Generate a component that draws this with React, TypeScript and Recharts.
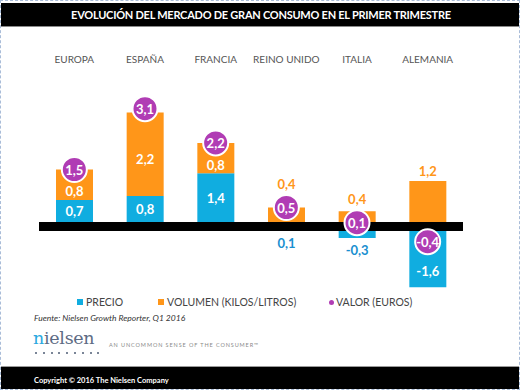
import { ComposedChart, Bar, Line, XAxis, YAxis, ReferenceLine, LabelList, Legend } from 'recharts';

const categories = ['EUROPA', 'ESPAÑA', 'FRANCIA', 'REINO UNIDO', 'ITALIA', 'ALEMANIA'];
const precio = [0.7, 0.8, 1.4, 0.1, -0.3, -1.6];
const volumen = [0.8, 2.2, 0.8, 0.4, 0.4, 1.2];
const valor = [1.5, 3.1, 2.2, 0.5, 0.1, -0.4];

const CYAN = '#10ade0';
const ORANGE = '#ff9619';
const PURPLE = '#b03cb4';
const FONT = 'Lato, "Open Sans", sans-serif';
const R = 13.5;
const HALF_LINE = 4.5;

const data = categories.map((name, i) => ({
  name,
  precio: precio[i],
  volumen: volumen[i],
  valor: valor[i],
}));

const fmt = (n: number) => n.toFixed(1).replace('.', ',');

const numText = (x: number, y: number, v: number, fill: string) => (
  <text
    x={x}
    y={y}
    textAnchor="middle"
    dominantBaseline="central"
    fill={fill}
    fontFamily={FONT}
    fontWeight={700}
    fontSize={13}
  >
    {fmt(v)}
  </text>
);

const box = (p: any) => {
  const top = Math.min(p.y, p.y + p.height);
  const bot = Math.max(p.y, p.y + p.height);
  return { top, bot, cx: p.x + p.width / 2 };
};

const precioLabel = (p: any) => {
  const i = p.index;
  const v = precio[i];
  const { top, bot, cx } = box(p);
  const px = (bot - top) / Math.abs(v);
  const zero = v >= 0 ? bot : top;
  if (bot - top < 20) {
    return numText(cx, Math.max(bot, zero + HALF_LINE) + 12, v, '#1a8fd0');
  }
  if (v >= 0) {
    return numText(cx, (top + bot - HALF_LINE) / 2, v, '#fff');
  }
  const cy = zero - valor[i] * px;
  const from = Math.max(top + HALF_LINE, cy + R);
  return numText(cx, (from + bot) / 2, v, '#fff');
};

const volumenLabel = (p: any) => {
  const i = p.index;
  const v = volumen[i];
  const { top, bot, cx } = box(p);
  const px = (bot - top) / v;
  const zero = bot + Math.max(precio[i], 0) * px;
  const cy = zero - valor[i] * px;
  if (Math.abs(cy - top) < 8 && bot - top > 25) {
    const lower = precio[i] > 0 ? bot : bot - HALF_LINE;
    return numText(cx, (cy + R + lower) / 2, v, '#fff');
  }
  return numText(cx, Math.min(top, cy - R) - 10, v, ORANGE);
};

const valorDot = (p: any) => (
  <g key={`v${p.index}`}>
    <circle cx={p.cx} cy={p.cy} r={R - 1} fill={PURPLE} stroke="#fff" strokeWidth={2} />
    {numText(p.cx, p.cy, valor[p.index], '#fff')}
  </g>
);

const legendItems = [
  { label: 'PRECIO', color: CYAN, x: 76, round: false },
  { label: 'VOLUMEN (KILOS/LITROS)', color: ORANGE, x: 157, round: false },
  { label: 'VALOR (EUROS)', color: PURPLE, x: 328, round: true },
];

const renderLegend = () => (
  <div style={{ position: 'relative', width: 520, height: 16 }}>
    {legendItems.map((it) => (
      <div
        key={it.label}
        style={{
          position: 'absolute',
          left: it.x,
          top: 0,
          display: 'flex',
          alignItems: 'center',
          fontFamily: FONT,
          fontSize: 10.5,
          color: '#444',
          whiteSpace: 'nowrap',
        }}
      >
        <span
          style={{
            display: 'inline-block',
            width: it.round ? 5 : 6,
            height: it.round ? 5 : 6,
            borderRadius: it.round ? '50%' : 0,
            background: it.color,
            marginRight: it.round ? 2 : 3,
          }}
        />
        {it.label}
      </div>
    ))}
  </div>
);

export default function App() {
  return (
    <div
      style={{
        position: 'absolute',
        left: 0,
        top: 0,
        width: 520,
        height: 390,
        background: '#fff',
        boxSizing: 'border-box',
        border: '1px dashed #a9bcd8',
        overflow: 'hidden',
      }}
    >
      <div
        style={{
          position: 'absolute',
          left: 0,
          top: 2,
          width: 520,
          height: 23,
          background: '#000',
          borderBottom: '1px solid #8a8a8a',
          color: '#fff',
          fontFamily: FONT,
          fontWeight: 700,
          fontSize: 11,
          letterSpacing: -0.25,
          lineHeight: '23px',
          textAlign: 'center',
        }}
      >
        EVOLUCIÓN DEL MERCADO DE GRAN CONSUMO EN EL PRIMER TRIMESTRE
      </div>

      <div style={{ position: 'absolute', left: 0, top: 0 }}>
        <ComposedChart
          width={520}
          height={390}
          data={data}
          stackOffset="sign"
          barCategoryGap={0}
          margin={{ top: 43.5, right: 58, bottom: 88.5, left: 38 }}
        >
          <XAxis
            dataKey="name"
            orientation="top"
            height={30}
            axisLine={false}
            tickLine={false}
            tickSize={0}
            tickMargin={12}
            interval={0}
            tick={{ fill: '#555', fontSize: 10, fontFamily: FONT }}
          />
          <YAxis hide domain={[-2, 4]} />
          <Bar dataKey="precio" stackId="a" fill={CYAN} barSize={37} isAnimationActive={false}>
            <LabelList dataKey="precio" content={precioLabel} />
          </Bar>
          <Bar dataKey="volumen" stackId="a" fill={ORANGE} barSize={37} isAnimationActive={false}>
            <LabelList dataKey="volumen" content={volumenLabel} />
          </Bar>
          <ReferenceLine y={0} stroke="#000" strokeWidth={9} />
          <Line
            dataKey="valor"
            stroke="none"
            dot={valorDot}
            activeDot={false}
            isAnimationActive={false}
          />
          <Legend
            layout="horizontal"
            verticalAlign="middle"
            content={renderLegend}
            wrapperStyle={{ top: 295, left: 0, width: 520 }}
          />
        </ComposedChart>
      </div>

      <div
        style={{
          position: 'absolute',
          left: 33,
          top: 312,
          fontFamily: FONT,
          fontStyle: 'italic',
          fontSize: 8.5,
          color: '#333',
          whiteSpace: 'nowrap',
        }}
      >
        Fuente: Nielsen Growth Reporter, Q1 2016
      </div>

      <div
        style={{
          position: 'absolute',
          left: 32,
          top: 327,
          fontFamily: '"DejaVu Serif", serif',
          fontSize: 17.5,
          letterSpacing: -0.3,
          lineHeight: '20px',
          color: '#5d6b84',
          whiteSpace: 'nowrap',
        }}
      >
        <span style={{ color: '#2aa8e0' }}>n</span>ielsen
      </div>
      <div style={{ position: 'absolute', left: 34, top: 351, display: 'flex', gap: 5.8 }}>
        {Array.from({ length: 9 }, (_, i) => (
          <span
            key={i}
            style={{ width: 2, height: 2, borderRadius: '50%', background: '#4e5c74' }}
          />
        ))}
      </div>
      <div
        style={{
          position: 'absolute',
          left: 108,
          top: 341,
          fontFamily: FONT,
          fontSize: 5.5,
          letterSpacing: 0.9,
          color: '#8a8a8a',
          whiteSpace: 'nowrap',
        }}
      >
        AN UNCOMMON SENSE OF THE CONSUMER™
      </div>

      <div
        style={{
          position: 'absolute',
          left: 0,
          top: 365,
          width: 520,
          height: 23,
          background: '#000',
          borderTop: '1px solid #9a9a9a',
          color: '#fff',
          fontFamily: FONT,
          fontWeight: 700,
          fontSize: 7.5,
          lineHeight: '28px',
          paddingLeft: 33,
          boxSizing: 'border-box',
        }}
      >
        Copyright © 2016 The Nielsen Company
      </div>
    </div>
  );
}
